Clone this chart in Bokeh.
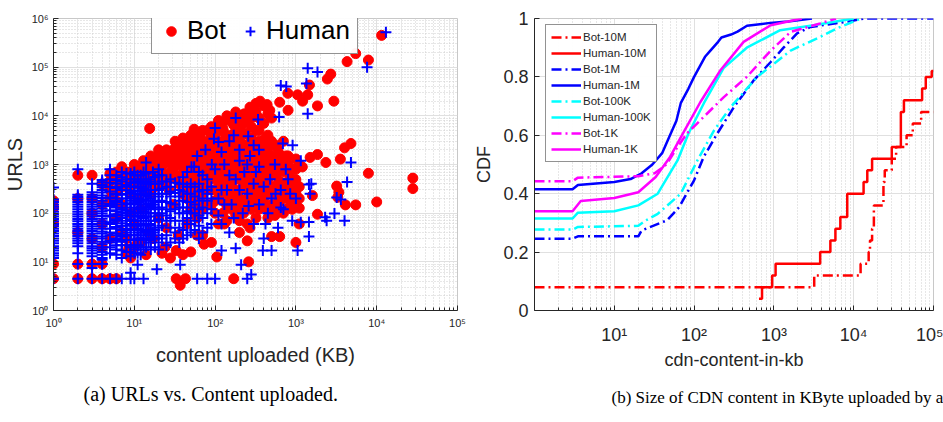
from bokeh.plotting import figure
from bokeh.models import (FixedTicker, CustomJSTickFormatter, Legend, LegendItem,
                          Title, Range1d)
from bokeh.layouts import row
from bokeh.embed import file_html
from bokeh.resources import INLINE

# ---------------- data: panel (a) scatter (content KB, URLs) ----------------
# isolated / outlying points read individually
bot_points = [
    (1,4.5),(1,9),(1,60),(1,130),(1,180),
    (2,4.5),(2,9),(2,40),(2,200),(2,600),
    (3,4.5),(3,9),(3,30),(3,100),(3,200),(3,600),
    (4,4.5),(4,9),(4,20),(4,60),(4,150),(4,400),
    (5,4.5),(5,30),(5,200),(5,450),(6,4.5),(6,300),(6,500),(6,80),
    (7,150),(7,600),(7,40),(8,30),(8,350),(8,700),(8.5,18),
    (9,12),(9,250),(9,100),(10,60),(10,400),(10,800),
    (11,25),(11,200),(11,900),(12,25),(12,500),(12,120),
    (13,300),(14,1000),(15,40),(15,600),(15.5,5500),(16,250),(16,1200),
    (18,700),(18,1100),(20,80),(20,400),(20,1500),
    (22,900),(24,20),(24,1400),(25,50),(25,600),
    (27,300),(28,1800),(30,150),(30,800),(30,1200),
    (33,4.5),(33,17),(33,500),(35,35),(35,2000),(36,1000),(37,3.3),
    (40,250),(40,700),(40,2500),(42,400),(43,4.5),(45,60),(45,1200),(45,1800),
    (50,120),(50,900),(50,3000),(55,300),(55,600),(55,3500),(55,5300),
    (60,80),(60,1500),(60,2800),(65,200),(65,1000),(65,4000),
    (70,400),(70,700),(70,3000),(73,23),(75,2000),
    (80,150),(80,1200),(80,5000),(85,500),(90,300),(90,1800),(90,4200),(95,900),
    (100,100),(100,2500),(100,6000),(105,12.6),(110,500),(110,1500),(110,5000),
    (120,250),(120,800),(120,7000),(130,60),(130,3000),(130,4500),(140,400),(140,1800),
    (150,180),(150,1100),(150,8000),(160,600),(170,4.5),(170,300),(170,2200),(170,6500),
    (180,90),(180,3500),(186,9600),(200,40),(200,500),(200,1400),(200,9000),
    (210,700),(220,150),(220,2600),(220,7000),(230,11000),(240,4200),
    (250,27),(250,300),(250,7500),(260,10),(260,1800),(270,50),(270,15000),
    (280,250),(280,900),(280,14000),(300,200),(300,3000),(300,9500),(320,1200),(320,12000),
    (330,150),(330,600),(350,120),(350,700),(350,5000),(360,20000),(380,2000),
    (400,300),(400,450),(400,800),(400,16000),
    (420,3500),(440,17000),(450,80),(450,300),(450,1500),(450,11000),(475,13000),(480,2500),
    (500,33),(500,250),(500,600),(500,1000),(550,90),(550,150),(550,1200),
    (600,160),(600,400),(600,2000),(630,33),(630,19000),(650,200),(650,900),
    (700,200),(700,400),(700,900),(750,1500),
    (795,29000),(800,127),(800,300),(800,700),(800,13000),
    (900,215),(900,120),(900,500),(1000,25),(1000,250),(1000,490),(1000,800),(1000,1300),
    (1050,27000),(1100,60),(1100,127),(1200,890),(1210,20000),(1400,27000),(1470,43000),
    (1500,1400),(1600,230),(1850,95),(1850,1600),(1850,16000),(2350,1100),(2450,57000),
    (2700,72000),(2950,20000),(3200,360),(3300,212),(3400,270),(3550,1290),(4000,2200),
    (4100,148),(4300,130000),(4800,2700),(5500,148),(5500,190000),(7900,140000),
    (7900,660),(10000,170),(11500,450000),(28000,525),(28000,320),
    (8,15),(10,20),(14,14),(17,30),(22,15),(28,12),(40,14),(50,16),(60,35),(90,25),
]

# dense part of the Bot cloud, column by column: (KB, [URLs...])
bot_core = [
    (5,[300,650]),(6,[180,700]),(7,[350,900]),(8,[500]),(9,[400,700]),
    (10,[550,1000]),(11,[400,700]),(12,[800]),(13,[600,1200]),(14,[400,800]),
    (16,[900,1500]),(17,[500]),(18,[350,1300]),(20,[1000,2000]),
    (22,[600,1500]),(25,[400,1100,2000]),(28,[700,1400]),(32,[600,1000,2200,3000]),
    (36,[400,1500,2800]),(40,[1000,1600,3500]),(45,[200,500,800,2500]),
    (50,[170,300,500,1300,2000,4000]),(56,[100,200,450,900,1500,2500]),
    (63,[150,350,600,1100,1800,3000]),(70,[35,120,250,1300,2000,5000]),
    (80,[300,450,800,2000,3000]),(90,[150,600,1000,1400,2500,6000]),
    (100,[180,300,500,800,1200,1800,3500]),
    (110,[60,200,350,700,1000,2000,3000,8000]),
    (125,[100,180,400,600,1000,1500,2200,5500]),
    (140,[70,140,250,600,900,1300,3000,10000]),
    (160,[120,220,350,800,1500,2500,4000]),
    (180,[150,250,500,1000,1700,5000,12000]),
    (200,[70,120,200,300,700,2000,3000,6000]),
    (225,[100,400,550,900,1300,1800,4500]),
    (250,[60,150,200,450,700,1100,2500,10000]),
    (280,[120,350,500,1500,3500,6000]),
    (320,[80,250,400,800,2000,5000,18000]),
    (350,[180,300,450,1000,1500,3000,9000]),
    (400,[150,200,600,1100,2500,7000]),
    (450,[120,500,900,2000,4000]),
    (500,[150,350,800,1500,3000,9000]),
    (560,[100,300,600,2500]),(630,[180,450,1000,1600]),
    (700,[100,300,700,1200,3000]),(800,[200,450,1000,1500]),
    (900,[150,350,800]),(1100,[200,350,1000]),
]

human_points = [
    (1,4.5),(1,335),(2,4.5),(2,9),(2,15),(2,800),(3,4.5),(3,7.5),(3,9),(3,400),
    (4,4.5),(4,9),(5,4.5),(5,800),(6,4.5),(7,4.5),(9,4.5),(9,6),(10,4.5),
    (11,8.7),(13,4.5),(14,1100),(19,7),(37,8.7),
    (51,900),(55,900),(60,4.5),(60,1500),(76,2000),(80,4.5),
    (91,1000),(97,3400),(100,4.5),(100,800),(100,5600),
    (110,200),(110,2900),(120,17),(120,60),(120,1800),(130,1000),(140,300),(150,40),
    (150,3000),(160,150),(170,4000),(180,19),(180,500),(180,9000),(200,1200),
    (200,2000),(210,8.7),(220,100),(250,4.5),(250,250),(250,1000),(257,3800),
    (270,1500),(280,5.5),(300,60),(300,2500),(320,700),(340,8400),(350,150),
    (350,2000),(390,17),(400,30),(400,350),(450,100),(500,17),(500,200),(550,1000),
    (600,50),(620,9500),(650,300),(650,42000),(690,2700),(700,120),(760,40000),
    (800,500),(900,70),(910,2500),(1000,200),(1050,17),(1150,65),(1150,1200),
    (1350,46000),(1400,11000),(1400,95000),(1450,33),(1450,66),(1450,390),
    (1500,250),(1550,400),(1850,80000),(2300,82),(2400,70),(3000,98),(3200,210),
    (3600,190),(4000,70),(4300,435),(4800,1100),(7600,100000),(13000,520000),
    (110,90),(120,300),(130,150),(150,600),(170,80),(200,300),(230,700),(260,140),
    (300,400),(350,900),(420,60),(480,500),(560,250),(650,130),(750,800),(850,250),
]

# dense part of the Human cloud, column by column: (KB, [URLs...])
human_core = [
    (1,[12,13.5,15,17,19,21,24,27,30,34,38,43,48,54,60,68,76,85,95,107,120,135,150,170,190]),
    (2,[21,24,27,30,34,38,43,48,54,60,68,76,85,95,107,120,135,150,170,190,215,240]),
    (3,[13,15,17,19,21,24,27,30,34,38,43,48,54,60,68,76,85,95,107,120,135,150,170,
        190,215,240,270]),
    (4,[9,11,12,14,16,18,20,23,26,30,33,38,42,48,54,61,68,77,87,98,110,124,140,158,
        180,205,230,265,300,340,380,430,480]),
    (5,[15,20,25,27,35,40,48,60,65,85,90,115,140,155,200,210,280,350,420,500,600]),
    (6,[14,18,22,28,30,38,50,52,70,75,95,110,130,170,180,240,250,330,400,480,600]),
    (7,[12,17,22,26,33,35,45,55,62,80,90,105,120,150,200,240,300,350,450,550,700]),
    (8,[16,22,28,35,40,48,55,70,90,100,115,130,160,200,250,300,380,500,650]),
    (9,[13,16,20,28,35,45,60,70,75,90,110,150,180,220,270,350,420,500,650]),
    (10,[15,18,22,28,35,45,55,70,85,100,130,160,200,250,290,350,420,500,600,700]),
    (11,[15,22,30,40,48,60,85,100,120,170,200,250,350,450,600]),
    (12,[14,20,28,35,45,60,70,90,130,150,180,240,280,350,450,600]),
    (13,[18,30,40,55,80,110,150,190,250,320,400,500,700]),
    (14,[20,30,42,60,85,100,130,180,230,300,420,650]),
    (15,[25,35,45,60,85,120,160,220,300,400,500]),
    (16,[18,28,40,55,70,100,140,200,250,300,450]),
    (17,[40,150,700]),
    (18,[20,30,45,70,100,130,180,250,300,400,550]),
    (20,[18,25,35,50,75,90,120,170,220,300,400,600,800]),
    (22,[30,55,100,130,180,250,320,450,600]),
    (25,[22,35,70,90,120,170,250,350,450]),
    (28,[25,50,80,110,160,220,280,350,500]),
    (32,[30,40,70,120,150,260,420]),
    (36,[25,50,100,130,180,220,300,400]),
    (40,[30,45,70,100,130,180,280,400,550]),
    (45,[35,60,80,110,170,250,350,700]),
    (50,[40,60,100,130,170,250,400]),
    (56,[45,70,100,150,220,350]),
    (63,[30,55,90,120,180,280,400,700]),
    (70,[40,80,130,200,300,600]),
    (80,[50,100,180,250,300,500]),
    (90,[60,120,200,350]),
]

# ---------------- data: panel (b) CDFs ----------------
h10m_x = [650, 710, 950, 1050, 3800, 5100, 5900, 6800, 8300, 13300, 14800, 17000,
          30000, 39000, 42600, 72000, 80000, 95000, 100000]
h10m_y = [0.04, 0.08, 0.12, 0.16, 0.20, 0.24, 0.28, 0.32, 0.40, 0.44, 0.48, 0.52,
          0.56, 0.68, 0.72, 0.76, 0.80, 0.82, 0.82]
b10m_x = [1, 3200, 12200, 15400, 16000, 17000, 17900, 23600, 24500, 30000, 34000,
          46000, 55000, 70000, 100000]
b10m_y = [0.08, 0.12, 0.16, 0.20, 0.24, 0.28, 0.36, 0.44, 0.48, 0.52, 0.56,
          0.60, 0.64, 0.68, 0.68]
h1m_x = [1, 3, 3.5, 10, 16, 22, 30, 40, 48, 60, 68, 85, 100, 138, 160, 200, 220,
         290, 350, 460, 900, 1500, 3000]
h1m_y = [0.415, 0.415, 0.43, 0.44, 0.45, 0.47, 0.50, 0.54, 0.59, 0.65, 0.71, 0.76,
         0.80, 0.87, 0.89, 0.92, 0.935, 0.945, 0.955, 0.975, 0.985, 0.99, 1.0]
b1m_x = [1, 3, 3.5, 20, 22, 46, 65, 100, 132, 195, 316, 562, 912, 1320, 1950, 2880,
         8300, 13500, 100000]
b1m_y = [0.246, 0.246, 0.254, 0.254, 0.274, 0.309, 0.354, 0.446, 0.526, 0.606,
         0.697, 0.789, 0.851, 0.90, 0.949, 0.971, 0.989, 1.0, 1.0]
h100k_x = [1, 3, 3.5, 10, 20, 35, 62, 85, 132, 234, 457, 1200, 3160, 10000]
h100k_y = [0.315, 0.315, 0.335, 0.34, 0.36, 0.40, 0.514, 0.606, 0.709, 0.83, 0.90,
           0.96, 0.977, 1.0]
b100k_x = [1, 3, 3.5, 20, 25, 35, 68, 110, 178, 288, 617, 1620, 3800, 6170, 12300]
b100k_y = [0.277, 0.277, 0.286, 0.29, 0.309, 0.331, 0.40, 0.514, 0.617, 0.697, 0.80,
           0.89, 0.937, 0.966, 1.0]
h1k_x = [1, 3, 3.8, 10, 20, 33, 50, 74, 120, 214, 417, 912, 2240]
h1k_y = [0.34, 0.34, 0.375, 0.385, 0.405, 0.457, 0.526, 0.611, 0.714, 0.823, 0.92,
         0.977, 1.0]
b1k_x = [1, 3, 3.5, 20, 32, 45, 62, 81, 132, 234, 457, 912, 1620, 3800, 6000]
b1k_y = [0.443, 0.443, 0.455, 0.46, 0.47, 0.50, 0.56, 0.606, 0.663, 0.73, 0.80,
         0.89, 0.954, 0.983, 1.0]

x_decades_a = [1, 10, 100, 1000, 10000, 100000]
y_decades_a = [1, 10, 100, 1000, 10000, 100000, 1000000]
x_decades_b = [10, 100, 1000, 10000, 100000]
cdf_ticks = [0, 0.2, 0.4, 0.6, 0.8, 1.0]


def expand(points, core):
    xs = [p[0] for p in points]
    ys = [p[1] for p in points]
    for kb, urls in core:
        xs += [kb] * len(urls)
        ys += list(urls)
    return xs, ys


bot_kb, bot_urls = expand(bot_points, bot_core)
human_kb, human_urls = expand(human_points, human_core)

SANS = "Liberation Sans"
SERIF = "Liberation Serif"
TXT = "#262626"
RED, BLUE, CYAN, MAG = "#ff0000", "#0000ff", "#00ffff", "#ff00ff"
DASHDOT = "10 4 2 4"

SUP_JS = """
const sup = {"0":"\u2070","1":"\u00b9","2":"\u00b2","3":"\u00b3","4":"\u2074",
             "5":"\u2075","6":"\u2076","7":"\u2077","8":"\u2078","9":"\u2079"};
const e = Math.round(Math.log10(tick));
return "10" + String(e).split("").map(c => sup[c]).join("");
"""


def minor_log(lo, hi):
    return [m * 10 ** k for k in range(lo, hi) for m in range(2, 10)]


def style_axis(ax, size):
    ax.axis_line_color = TXT
    ax.major_tick_in = 5
    ax.major_tick_out = 0
    ax.minor_tick_in = 3
    ax.minor_tick_out = 0
    ax.major_tick_line_color = TXT
    ax.minor_tick_line_color = TXT
    ax.major_label_text_font = SANS
    ax.major_label_text_font_size = size
    ax.major_label_text_color = TXT
    ax.axis_label_text_font = SANS
    ax.axis_label_text_font_style = "normal"
    ax.axis_label_text_color = TXT


# ---------------- panel (a) ----------------
p1 = figure(width=470, height=422, x_axis_type="log", y_axis_type="log",
            x_range=Range1d(1, 1e5), y_range=Range1d(1, 1e6),
            output_backend="svg", toolbar_location=None,
            min_border_left=48, min_border_right=13, min_border_top=2,
            min_border_bottom=110)
p1.outline_line_color = "#c8c8c8"
p1.xaxis.ticker = FixedTicker(ticks=x_decades_a, minor_ticks=minor_log(0, 5))
p1.yaxis.ticker = FixedTicker(ticks=y_decades_a, minor_ticks=minor_log(0, 6))
for ax in (p1.xaxis[0], p1.yaxis[0]):
    style_axis(ax, "11px")
    ax.formatter = CustomJSTickFormatter(code=SUP_JS)
p1.xaxis.axis_label = "content uploaded (KB)"
p1.xaxis.axis_label_text_font_size = "20px"
p1.xaxis.major_label_standoff = 6
p1.xaxis.axis_label_standoff = 12
p1.yaxis.axis_label = "URLS"
p1.yaxis.axis_label_text_font_size = "20px"
p1.yaxis.major_label_standoff = 5
p1.yaxis.axis_label_standoff = 3
for g in (p1.xgrid[0], p1.ygrid[0]):
    g.grid_line_color = "#e0e0e0"
    g.minor_grid_line_color = "#cfcfcf"
    g.minor_grid_line_dash = "1 2"

r_bot = p1.scatter(bot_kb, bot_urls, marker="circle", size=10,
                   fill_color=RED, line_color=RED)
r_hum = p1.scatter(human_kb, human_urls, marker="cross", size=11,
                   line_color=BLUE, line_width=2)

leg1 = Legend(items=[LegendItem(label="Bot", renderers=[r_bot]),
                     LegendItem(label="Human", renderers=[r_hum])],
              orientation="horizontal", location=(98, 256),
              label_text_font=SANS, label_text_font_size="26px",
              label_text_color="black", border_line_color="#262626",
              border_line_width=1, padding=7, spacing=12, glyph_width=24,
              glyph_height=30, label_height=30, label_standoff=4, margin=0)
p1.add_layout(leg1)
p1.add_layout(Title(text="(a) URLs vs. Content uploaded.", align="left", offset=30,
                    text_font=SERIF, text_font_size="20px", text_font_style="normal",
                    text_color="black", standoff=25), "below")

# ---------------- panel (b) ----------------
p2 = figure(width=473, height=422, x_axis_type="log",
            x_range=Range1d(1, 1e5), y_range=Range1d(0, 1),
            output_backend="svg", toolbar_location=None,
            min_border_left=64, min_border_right=10, min_border_top=18,
            min_border_bottom=112)
p2.outline_line_color = "#c8c8c8"
p2.xaxis.ticker = FixedTicker(ticks=x_decades_b, minor_ticks=minor_log(0, 5))
p2.yaxis.ticker = FixedTicker(ticks=cdf_ticks)
style_axis(p2.xaxis[0], "18px")
style_axis(p2.yaxis[0], "18px")
p2.xaxis.formatter = CustomJSTickFormatter(code=SUP_JS)
p2.yaxis.formatter = CustomJSTickFormatter(
    code="return (tick === 0 || tick === 1) ? String(tick) : tick.toFixed(1);")
p2.xaxis.axis_label = "cdn-content-in-kb"
p2.xaxis.axis_label_text_font_size = "18px"
p2.xaxis.major_label_standoff = 14
p2.xaxis.axis_label_standoff = 2
p2.yaxis.axis_label = "CDF"
p2.yaxis.axis_label_text_font_size = "18px"
p2.yaxis.major_label_standoff = 6
p2.yaxis.axis_label_standoff = 6
p2.xgrid.grid_line_color = "#e0e0e0"
p2.xgrid.minor_grid_line_color = "#cfcfcf"
p2.xgrid.minor_grid_line_dash = "1 2"
p2.ygrid.grid_line_color = "#e0e0e0"

lw = 2.5
r1 = p2.step(b10m_x, b10m_y, mode="after", line_color=RED, line_width=lw, line_dash=DASHDOT)
r2 = p2.step(h10m_x, h10m_y, mode="after", line_color=RED, line_width=lw)
r3 = p2.line(b1m_x, b1m_y, line_color=BLUE, line_width=lw, line_dash=DASHDOT)
r4 = p2.line(h1m_x, h1m_y, line_color=BLUE, line_width=lw)
r5 = p2.line(b100k_x, b100k_y, line_color=CYAN, line_width=lw, line_dash=DASHDOT)
r6 = p2.line(h100k_x, h100k_y, line_color=CYAN, line_width=lw)
r7 = p2.line(b1k_x, b1k_y, line_color=MAG, line_width=lw, line_dash=DASHDOT)
r8 = p2.line(h1k_x, h1k_y, line_color=MAG, line_width=lw)

labels = ["Bot-10M", "Human-10M", "Bot-1M", "Human-1M",
          "Bot-100K", "Human-100K", "Bot-1K", "Human-1K"]
rends = [r1, r2, r3, r4, r5, r6, r7, r8]
leg2 = Legend(items=[LegendItem(label=l, renderers=[r]) for l, r in zip(labels, rends)],
              location=(11, 148), label_text_font=SANS, label_text_font_size="11.5px",
              label_text_color=TXT, border_line_color="#262626", border_line_width=1,
              padding=5, spacing=2, glyph_width=30, glyph_height=14, label_height=14,
              label_standoff=2, margin=0)
p2.add_layout(leg2)
p2.add_layout(Title(text="(b) Size of CDN content in KByte uploaded by a", align="left",
                    offset=77, text_font=SERIF, text_font_size="17px",
                    text_font_style="normal", text_color="black", standoff=27), "below")

layout = row(p1, p2)
open("out.html", "w").write(file_html(layout, INLINE))
